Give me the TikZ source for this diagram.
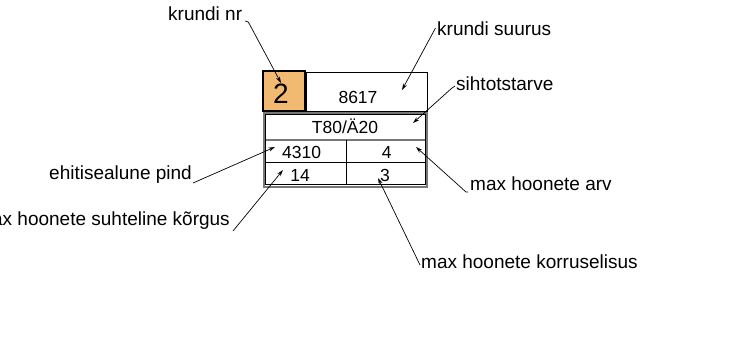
\documentclass[tikz,border=0pt]{standalone}
\usepackage{fontspec}
\setmainfont{Liberation Sans}
\usetikzlibrary{arrows.meta}
\definecolor{plotorange}{RGB}{242,186,112}
\definecolor{rimgray}{RGB}{120,120,120}
\begin{document}
\begin{tikzpicture}[x=1pt,y=-1pt,
  lbl/.style={font=\fontsize{19}{22}\selectfont, inner sep=0pt},
  num/.style={font=\fontsize{17.5}{20}\selectfont, inner sep=0pt, anchor=base},
  lead/.style={draw=black, line width=0.7pt, -{Stealth[length=6.5pt,width=4pt]}},
  rule/.style={draw=black, line width=0.8pt},
  rim/.style={draw=rimgray, line width=2pt}]
\useasboundingbox (0,0) rectangle (749,340);
% top row
\draw[rule] (306,72) rectangle (427,111);
\node[draw=black, line width=2pt, fill=plotorange, minimum width=42pt, minimum height=40pt, inner sep=0pt] (nrbox) at (284,90.5) {};
\node[font=\fontsize{28}{30}\selectfont, inner sep=0pt, anchor=base] (two) at (281,103.3) {2};
\node[num] (size) at (358,103) {8617};
% lower table
\draw[rim] (263.5,112.5) rectangle (426.5,186.5);
\draw[rule] (265.5,114) rectangle (425,184.5);
\draw[rim, line width=1.6pt] (265.5,140) -- (425,140);
\draw[rule] (265.5,162) -- (425,162);
\draw[rule] (346,140) -- (346,184.5);
\node[num] (use) at (345,133.3) {T80/Ä20};
\node[num] (area) at (301.7,158) {4310};
\node[num] (count) at (386.7,158) {4};
\node[num] (height) at (300,181.7) {14};
\node[num] (floors) at (385,181.7) {3};
% labels
\node[lbl, anchor=base west] (lnr) at (168,20.5) {krundi nr};
\node[lbl, anchor=base west] (lsize) at (437,35) {krundi suurus};
\node[lbl, anchor=base west] (luse) at (456,90) {sihtotstarve};
\node[lbl, anchor=base east] (larea) at (192,179) {ehitisealune pind};
\node[lbl, anchor=base east] (lheight) at (230,225) {max hoonete suhteline kõrgus};
\node[lbl, anchor=base west] (lcount) at (470,190) {max hoonete arv};
\node[lbl, anchor=base west] (lfloors) at (421,268) {max hoonete korruselisus};
% arrow tips
\coordinate (tnr) at (281,83);
\coordinate (tsize) at (402,90);
\coordinate (tuse) at (413,123);
\coordinate (tarea) at (275,147);
\coordinate (theight) at (283,170);
\coordinate (tcount) at (416,147);
\coordinate (tfloors) at (378,178);
% leaders
\draw[lead] ([xshift=3pt,yshift=-0.5pt]lnr.base east) -- ++(3,1) -- (tnr);
\draw[lead] ([xshift=-1.5pt,yshift=7pt]lsize.base west) -- (tsize);
\draw[lead] ([xshift=-1pt,yshift=4pt]luse.base west) -- ++(-3,2) -- (tuse);
\draw[lead] ([xshift=1pt,yshift=-4pt]larea.base east) -- (tarea);
\draw[lead] ([xshift=3pt,yshift=-6pt]lheight.base east) -- (theight);
\draw[lead] ([xshift=-2pt,yshift=-2pt]lcount.base west) -- ++(-2,0) -- (tcount);
\draw[lead] ([xshift=-1pt,yshift=3pt]lfloors.base west) -- (tfloors);
\end{tikzpicture}
\end{document}
